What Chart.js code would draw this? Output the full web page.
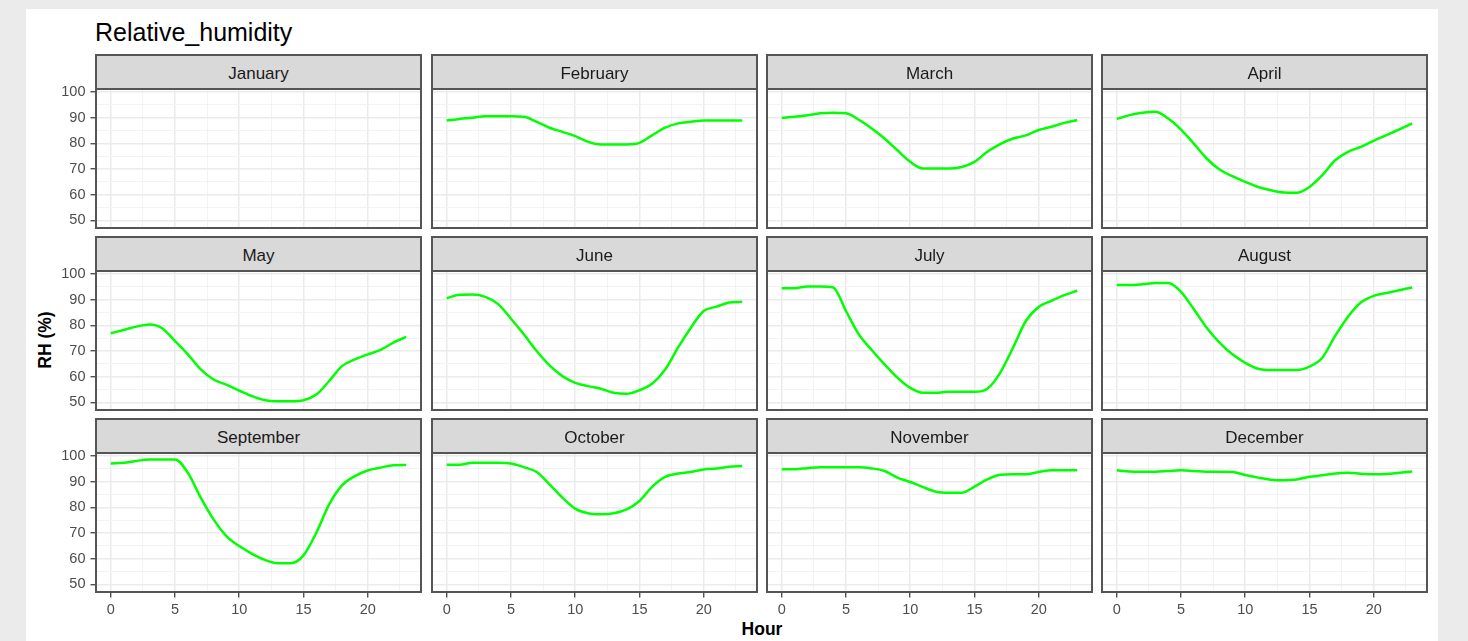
<!DOCTYPE html>
<html>
<head>
<meta charset="utf-8">
<title>Relative_humidity</title>
<script src="https://cdn.jsdelivr.net/npm/chart.js@4.4.1/dist/chart.umd.min.js"></script>
<style>
  html, body { margin: 0; padding: 0; width: 1468px; height: 641px; overflow: hidden; background: #ebebeb;
               font-family: "Liberation Sans", Arial, sans-serif; }
  #sheet { position: absolute; left: 26px; top: 9px; width: 1412px; height: 640px; background: #ffffff; }
  #title { position: absolute; left: 95px; top: 20px; font-size: 25px; line-height: 25px; color: #000; white-space: nowrap; }
  .strip { position: absolute; box-sizing: border-box; background: #d9d9d9; border: 2px solid #555; padding-top: 4px;
           color: #1a1a1a; font-size: 17px; display: flex; align-items: center; justify-content: center; z-index: 2; }
  .axis-title { position: absolute; font-weight: bold; font-size: 17.5px; line-height: 17.5px; color: #000;
                white-space: nowrap; transform: translate(-50%, -50%); }
  #ylab { transform: translate(-50%, -50%) rotate(-90deg); }
  canvas { position: absolute; }
</style>
</head>
<body>
<div id="sheet"></div>
<div id="title">Relative_humidity</div>
<div id="ylab" class="axis-title" style="left:46px; top:340px;">RH (%)</div>
<div id="xlab" class="axis-title" style="left:762px; top:630px;">Hour</div>

<script>
// Hour of day (x) and facet names
const hours = [0, 1, 2, 3, 4, 5, 6, 7, 8, 9, 10, 11, 12, 13, 14, 15, 16, 17, 18, 19, 20, 21, 22, 23];
const monthNames = ['January', 'February', 'March', 'April', 'May', 'June',
                    'July', 'August', 'September', 'October', 'November', 'December'];

// Labelled ticks
const xTickLabels = [0, 5, 10, 15, 20];
const yTickLabels = [50, 60, 70, 80, 90, 100];

// Mean hourly relative humidity (%) per month
const rhJanuary   = [];
const rhFebruary  = [88.9, 89.5, 90.0, 90.6, 90.6, 90.6, 90.4, 88.4, 86.1, 84.5, 82.8, 80.6, 79.6, 79.6, 79.6, 80.2, 83.2, 86.1, 87.8, 88.4, 88.9, 88.9, 88.9, 88.9];
const rhMarch     = [90.0, 90.4, 91.0, 91.7, 91.9, 91.7, 89.2, 85.8, 81.9, 77.3, 72.8, 70.2, 70.2, 70.2, 70.8, 72.8, 76.7, 79.7, 81.9, 83.1, 85.2, 86.5, 88.0, 89.1];
const rhApril     = [89.5, 91.0, 91.9, 92.3, 89.7, 85.4, 79.9, 74.1, 69.8, 67.2, 65.0, 63.0, 61.7, 60.8, 60.7, 63.0, 67.6, 73.4, 76.7, 78.6, 81.0, 83.2, 85.5, 87.8];
const rhMay       = [76.9, 78.2, 79.5, 80.3, 78.9, 73.9, 68.7, 62.8, 58.9, 56.9, 54.6, 52.4, 50.8, 50.4, 50.4, 50.8, 53.0, 58.3, 64.1, 66.7, 68.7, 70.4, 73.3, 75.5];
const rhJune      = [90.6, 91.9, 92.0, 91.1, 88.3, 82.6, 76.5, 70.0, 64.4, 60.2, 57.6, 56.3, 55.3, 53.7, 53.3, 54.7, 57.3, 62.8, 71.3, 79.1, 85.6, 87.3, 88.9, 89.2];
const rhJuly      = [94.5, 94.5, 95.2, 95.2, 94.8, 85.6, 76.5, 70.4, 64.8, 59.6, 55.6, 53.7, 53.7, 54.1, 54.1, 54.1, 55.3, 61.5, 71.3, 81.7, 87.2, 89.6, 91.8, 93.5];
const rhAugust    = [95.7, 95.7, 96.0, 96.5, 96.5, 93.1, 86.3, 79.1, 73.3, 68.7, 65.4, 63.1, 62.6, 62.6, 62.6, 63.9, 67.4, 75.9, 83.4, 88.9, 91.5, 92.6, 93.7, 94.8];
const rhSeptember = [97.1, 97.4, 98.1, 98.7, 98.7, 98.7, 93.5, 83.8, 75.3, 68.8, 64.9, 61.9, 59.5, 58.2, 58.2, 61.3, 70.1, 81.2, 88.6, 92.2, 94.4, 95.5, 96.4, 96.5];
const rhOctober   = [96.6, 96.6, 97.4, 97.4, 97.4, 97.1, 95.7, 93.8, 89.0, 83.8, 79.5, 77.7, 77.3, 77.7, 79.2, 82.5, 88.1, 91.9, 93.2, 93.8, 94.8, 95.2, 95.8, 96.1];
const rhNovember  = [94.9, 94.9, 95.3, 95.6, 95.6, 95.6, 95.6, 95.2, 94.2, 91.6, 89.9, 87.9, 86.1, 85.7, 85.7, 88.1, 90.9, 92.7, 92.9, 92.9, 93.8, 94.5, 94.5, 94.5];
const rhDecember  = [94.5, 94.0, 93.9, 93.9, 94.2, 94.5, 94.2, 93.9, 93.9, 93.8, 92.6, 91.6, 90.8, 90.6, 90.9, 91.9, 92.5, 93.2, 93.5, 93.1, 92.9, 93.0, 93.5, 94.0];

const rhByMonth = [rhJanuary, rhFebruary, rhMarch, rhApril, rhMay, rhJune,
                   rhJuly, rhAugust, rhSeptember, rhOctober, rhNovember, rhDecember];

// Facet grid geometry (page pixels)
const COL_LEFT = [96, 432, 767, 1102];
const ROW_TOP = [89, 271, 453];
const PANEL_W = 325;
const PANEL_H = 139;
const STRIP_H = 34;
const AXIS_W = 60;   // room left of each panel for y labels
const AXIS_H = 36;   // room below each panel for x labels
const PAD_T = 20;
const PAD_R = 6;

// Shared scale limits (data range plus 5% expansion)
const X_MIN = -1.15, X_MAX = 24.15;
const Y_MIN = 47.0, Y_MAX = 101.2;

const FONT = '"Liberation Sans", Arial, sans-serif';
const GRID = '#ebebeb';
const BORDER = '#555555';

const xGridValues = [];
for (let v = 0; v <= 22.5; v += 2.5) xGridValues.push(v);
const yGridValues = [];
for (let v = 50; v <= 100; v += 5) yGridValues.push(v);

const isMajor = (v, step) => Math.abs(v / step - Math.round(v / step)) < 1e-6;

const panelBorder = {
  id: 'panelBorder',
  afterDraw(chart) {
    const { ctx, chartArea: a } = chart;
    ctx.save();
    ctx.strokeStyle = BORDER;
    ctx.lineWidth = 2;
    ctx.strokeRect(a.left, a.top, a.right - a.left, a.bottom - a.top);
    ctx.restore();
  }
};

function buildPanel(idx) {
  const row = Math.floor(idx / 4), col = idx % 4;
  const L = COL_LEFT[col], T = ROW_TOP[row];
  const showY = col === 0, showX = row === 2;

  const strip = document.createElement('div');
  strip.className = 'strip';
  strip.textContent = monthNames[idx];
  Object.assign(strip.style, {
    left: (L - 1) + 'px', top: (T - STRIP_H - 1) + 'px',
    width: (PANEL_W + 2) + 'px', height: (STRIP_H + 2) + 'px'
  });
  document.body.appendChild(strip);

  const cw = AXIS_W + PANEL_W + PAD_R, ch = PAD_T + PANEL_H + AXIS_H;
  const canvas = document.createElement('canvas');
  canvas.width = cw; canvas.height = ch;
  Object.assign(canvas.style, {
    left: (L - AXIS_W) + 'px', top: (T - PAD_T) + 'px', width: cw + 'px', height: ch + 'px'
  });
  document.body.appendChild(canvas);

  const values = rhByMonth[idx];
  const points = values.map((v, i) => ({ x: hours[i], y: v }));

  new Chart(canvas, {
    type: 'line',
    data: {
      datasets: [{
        data: points,
        borderColor: '#00ff00',
        borderWidth: 2.5,
        pointRadius: 0,
        cubicInterpolationMode: 'monotone',
        fill: false
      }]
    },
    options: {
      responsive: false,
      animation: false,
      devicePixelRatio: 1,
      events: [],
      layout: { padding: { top: PAD_T, right: PAD_R, left: 0, bottom: 0 } },
      plugins: { legend: { display: false }, tooltip: { enabled: false }, title: { display: false } },
      scales: {
        x: {
          type: 'linear', min: X_MIN, max: X_MAX,
          afterBuildTicks: s => { s.ticks = xGridValues.map(v => ({ value: v })); },
          afterFit: s => { s.height = AXIS_H; },
          border: { display: false },
          grid: {
            color: c => (c.tick && isMajor(c.tick.value, 5)) ? GRID : '#f2f2f2',
            lineWidth: c => (c.tick && isMajor(c.tick.value, 5)) ? 1.5 : 0.9,
            drawTicks: showX,
            tickLength: 5.5,
            tickWidth: 1.2,
            tickColor: c => (c.tick && isMajor(c.tick.value, 5)) ? '#333333' : 'rgba(0,0,0,0)'
          },
          ticks: {
            display: showX, autoSkip: false, maxRotation: 0, minRotation: 0, padding: 4,
            color: '#4d4d4d', font: { family: FONT, size: 14.5 },
            callback: v => xTickLabels.includes(v) ? String(v) : ''
          }
        },
        y: {
          type: 'linear', min: Y_MIN, max: Y_MAX,
          afterBuildTicks: s => { s.ticks = yGridValues.map(v => ({ value: v })); },
          afterFit: s => { s.width = AXIS_W; },
          border: { display: false },
          grid: {
            color: c => (c.tick && isMajor(c.tick.value, 10)) ? GRID : '#f2f2f2',
            lineWidth: c => (c.tick && isMajor(c.tick.value, 10)) ? 1.5 : 0.9,
            drawTicks: showY,
            tickLength: 5.5,
            tickWidth: 1.2,
            tickColor: c => (c.tick && isMajor(c.tick.value, 10)) ? '#333333' : 'rgba(0,0,0,0)'
          },
          ticks: {
            display: showY, autoSkip: false, padding: 5,
            color: '#4d4d4d', font: { family: FONT, size: 14.5 },
            callback: v => yTickLabels.includes(v) ? String(v) : ''
          }
        }
      }
    },
    plugins: [panelBorder]
  });
}

for (let i = 0; i < 12; i++) buildPanel(i);
</script>
</body>
</html>
